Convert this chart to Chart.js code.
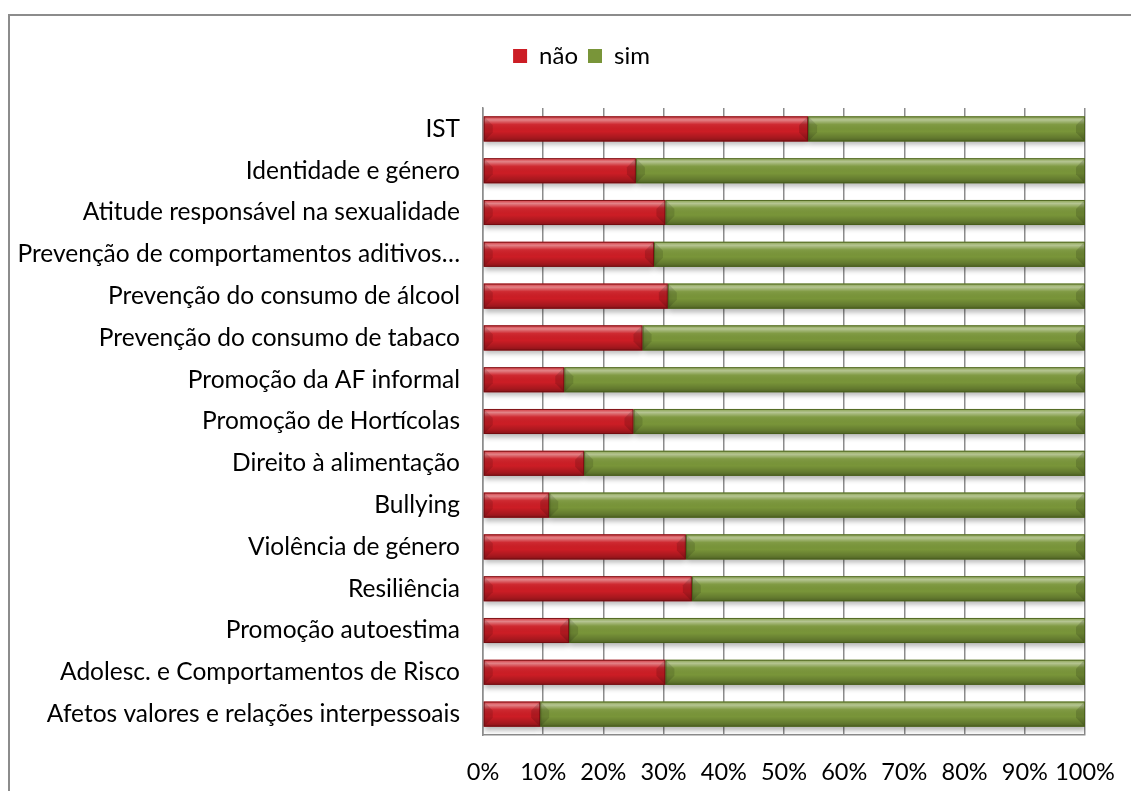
<!DOCTYPE html>
<html>
  <head>
    <style>
      * {
        margin: 0;
        padding: 0;
      }
      body {
        background: #ffffff;
        overflow: hidden;
      }
      .chartBox {
        width: 1131px;
        height: 791px;
      }
    </style>
  </head>
  <body>
    <div class="chartBox">
      <canvas id="myChart"></canvas>
    </div>
    <script src="https://cdn.jsdelivr.net/npm/chart.js/dist/chart.umd.min.js"></script>
    <script>
      // topics, top to bottom
      const topics = [
        "IST",
        "Identidade e género",
        "Atitude responsável na sexualidade",
        "Prevenção de comportamentos aditivos…",
        "Prevenção do consumo de álcool",
        "Prevenção do consumo de tabaco",
        "Promoção da AF informal",
        "Promoção de Hortícolas",
        "Direito à alimentação",
        "Bullying",
        "Violência de género",
        "Resiliência",
        "Promoção autoestima",
        "Adolesc. e Comportamentos de Risco",
        "Afetos valores e relações interpessoais",
      ];

      // share of answers (%)
      const naoValues = [54.0, 25.4, 30.3, 28.4, 30.7, 26.5, 13.5, 25.0, 16.8, 11.0, 33.7, 34.7, 14.3, 30.3, 9.5];
      const simValues = [46.0, 74.6, 69.7, 71.6, 69.3, 73.5, 86.5, 75.0, 83.2, 89.0, 66.3, 65.3, 85.7, 69.7, 90.5];

      const xTicks = [0, 10, 20, 30, 40, 50, 60, 70, 80, 90, 100];

      const FONT = "Lato";

      // grey frame round the whole chart, open to the right and bottom
      const framePlugin = {
        id: "frame",
        beforeDraw(chart) {
          const ctx = chart.ctx;
          ctx.save();
          ctx.strokeStyle = "#8c8c8c";
          ctx.lineWidth = 2;
          ctx.strokeRect(9, 15, chart.width + 20, chart.height + 20);
          ctx.restore();
        },
        // nudge the legend so it sits over the middle of the plot
        afterLayout(chart) {
          if (chart.legend) {
            chart.legend.left += 39;
            chart.legend.right += 39;
          }
        },
      };

      // soft shadow under the bars, then a glossy shading and bevelled ends
      const barLookPlugin = {
        id: "barLook",
        beforeDatasetsDraw(chart) {
          const ctx = chart.ctx;
          ctx.save();
          ctx.shadowColor = "rgba(0,0,0,0.28)";
          ctx.shadowBlur = 5;
          ctx.shadowOffsetX = 0;
          ctx.shadowOffsetY = 4;
        },
        afterDatasetsDraw(chart) {
          const ctx = chart.ctx;
          ctx.restore();
          ctx.save();
          chart.data.datasets.forEach((ds, di) => {
            const meta = chart.getDatasetMeta(di);
            meta.data.forEach((bar) => {
              const p = bar.getProps(["x", "y", "base", "height"], true);
              const x0 = Math.min(p.x, p.base);
              const x1 = Math.max(p.x, p.base);
              const top = p.y - p.height / 2;
              const bot = p.y + p.height / 2;
              const w = x1 - x0;
              if (w <= 0) return;

              const g = ctx.createLinearGradient(0, top, 0, bot);
              g.addColorStop(0, "rgba(255,255,255,0.10)");
              g.addColorStop(0.14, "rgba(255,255,255,0.45)");
              g.addColorStop(0.32, "rgba(255,255,255,0.06)");
              g.addColorStop(0.6, "rgba(0,0,0,0.0)");
              g.addColorStop(0.85, "rgba(0,0,0,0.18)");
              g.addColorStop(1, "rgba(0,0,0,0.35)");
              ctx.fillStyle = g;
              ctx.fillRect(x0, top, w, bot - top);

              // bevelled ends
              const b = Math.min(9, w / 2);
              ctx.fillStyle = "rgba(0,0,0,0.14)";
              ctx.beginPath();
              ctx.moveTo(x1, top);
              ctx.lineTo(x1 - b, top + b);
              ctx.lineTo(x1 - b, bot - b);
              ctx.lineTo(x1, bot);
              ctx.closePath();
              ctx.fill();
              ctx.fillStyle = "rgba(0,0,0,0.12)";
              ctx.beginPath();
              ctx.moveTo(x0, top);
              ctx.lineTo(x0 + b, top + b);
              ctx.lineTo(x0 + b, bot - b);
              ctx.lineTo(x0, bot);
              ctx.closePath();
              ctx.fill();

              ctx.strokeStyle = di === 0 ? "rgba(110,10,14,0.8)" : "rgba(70,92,24,0.8)";
              ctx.lineWidth = 1;
              ctx.strokeRect(x0 + 0.5, top + 0.5, w - 1, bot - top - 1);
            });
          });
          ctx.restore();
        },
      };

      const data = {
        labels: topics,
        datasets: [
          {
            label: "não",
            data: naoValues,
            backgroundColor: "#cc1d25",
            borderColor: "#7a0e12",
            borderWidth: 0,
          },
          {
            label: "sim",
            data: simValues,
            backgroundColor: "#799539",
            borderColor: "#4a6219",
            borderWidth: 0,
          },
        ],
      };

      const config = {
        type: "bar",
        data,
        plugins: [framePlugin, barLookPlugin],
        options: {
          indexAxis: "y",
          responsive: false,
          animation: false,
          categoryPercentage: 1,
          barPercentage: 0.6,
          layout: {
            padding: { top: 34, left: 0, right: 46, bottom: 0 },
          },
          plugins: {
            tooltip: { enabled: false },
            legend: {
              position: "top",
              labels: {
                boxWidth: 14,
                boxHeight: 14,
                padding: 10,
                color: "#000",
                font: { family: FONT, size: 24 },
              },
            },
            // blank spacer between legend and plot
            title: {
              display: true,
              text: "",
              weight: 500,
              padding: { top: 20, bottom: 0 },
              font: { size: 10, lineHeight: 1 },
            },
          },
          scales: {
            x: {
              stacked: true,
              min: 0,
              max: 100,
              afterBuildTicks(scale) {
                scale.ticks = xTicks.map((v) => ({ value: v }));
              },
              afterFit(scale) {
                scale.height = 56;
                scale.paddingLeft = 0;
                scale.paddingRight = 0;
              },
              grid: {
                color: "#8c8c8c",
                lineWidth: 1.5,
                drawTicks: false,
              },
              border: { display: true, color: "#8c8c8c", width: 1.5 },
              ticks: {
                padding: 23,
                color: "#000",
                font: { family: FONT, size: 23.5 },
                maxRotation: 0,
                autoSkip: false,
                callback: (v) => v + "%",
              },
            },
            y: {
              stacked: true,
              afterFit(scale) {
                scale.width = 483;
              },
              grid: { display: false },
              border: { display: true, color: "#8c8c8c", width: 1.5 },
              ticks: {
                padding: 15,
                color: "#000",
                autoSkip: false,
                font: { family: FONT, size: 24.5 },
              },
            },
          },
        },
      };

      const canvas = document.getElementById("myChart");
      canvas.width = 1131;
      canvas.height = 791;
      const myChart = new Chart(canvas, config);
    </script>
  </body>
</html>
